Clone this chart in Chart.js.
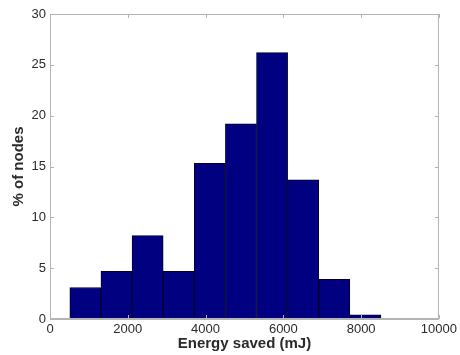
<!DOCTYPE html>
<html>
<head>
<meta charset="utf-8">
<script src="https://cdn.jsdelivr.net/npm/chart.js@4/dist/chart.umd.min.js"></script>
<style>
  html, body { margin: 0; padding: 0; background: #fff; }
  #wrap { width: 460px; height: 355px; position: relative; }
</style>
</head>
<body>
<div id="wrap"><canvas id="hist"></canvas></div>
<script>
// histogram bins (centre of each 800 mJ bin) and share of nodes in each
const binCenters = [910, 1710, 2510, 3310, 4110, 4910, 5710, 6510, 7310, 8110];
const nodePercent = [3.1, 4.7, 8.2, 4.7, 15.3, 19.2, 26.2, 13.7, 3.9, 0.4];
const xTicks = [0, 2000, 4000, 6000, 8000, 10000];
const yTicks = [0, 5, 10, 15, 20, 25, 30];

const axisGrey = '#b4b4b4';
const textColor = '#2a2a2a';
const family = 'Liberation Sans, Arial, sans-serif';

// matlab-style box: frame on all four sides, ticks pointing inwards
const boxPlugin = {
    id: 'boxTicks',
    afterDatasetsDraw(chart) {
        const { ctx, chartArea, scales } = chart;
        const { top, bottom, left, right } = chartArea;
        const len = 4;
        ctx.save();
        ctx.strokeStyle = axisGrey;
        ctx.lineWidth = 1;
        ctx.beginPath();
        ctx.rect(left + 0.5, top + 0.5, right - left - 1, bottom - top - 1);
        xTicks.forEach(v => {
            const x = Math.round(scales.x.getPixelForValue(v)) + 0.5;
            ctx.moveTo(x, bottom); ctx.lineTo(x, bottom - len);
            ctx.moveTo(x, top); ctx.lineTo(x, top + len);
        });
        yTicks.forEach(v => {
            const y = Math.round(scales.y.getPixelForValue(v)) + 0.5;
            ctx.moveTo(left, y); ctx.lineTo(left + len, y);
            ctx.moveTo(right, y); ctx.lineTo(right - len, y);
        });
        ctx.stroke();
        ctx.restore();
    }
};

new Chart(document.getElementById('hist').getContext('2d'), {
    type: 'bar',
    data: {
        datasets: [{
            data: binCenters.map((c, i) => ({ x: c, y: nodePercent[i] })),
            backgroundColor: '#000080',
            borderColor: '#00002a',
            borderWidth: 1,
            borderSkipped: 'start',
            barPercentage: 1,
            categoryPercentage: 1
        }]
    },
    options: {
        responsive: true,
        maintainAspectRatio: false,
        animation: false,
        layout: { padding: { top: 14, right: 21, left: 0, bottom: 0 } },
        plugins: {
            legend: { display: false },
            tooltip: { enabled: false }
        },
        scales: {
            x: {
                type: 'linear',
                min: 0,
                max: 10000,
                offset: false,
                grid: { display: false, drawTicks: false },
                border: { display: true, color: axisGrey },
                ticks: {
                    stepSize: 2000,
                    maxRotation: 0,
                    padding: 3,
                    color: textColor,
                    font: { family, size: 13 },
                    callback: v => String(v)
                },
                title: {
                    display: true,
                    text: 'Energy saved (mJ)',
                    color: textColor,
                    padding: { top: 0, bottom: 2 },
                    font: { family, size: 15, weight: 'bold' }
                },
                afterFit(scale) { scale.height = 36; }
            },
            y: {
                min: 0,
                max: 30,
                grid: { display: false, drawTicks: false },
                border: { display: true, color: axisGrey },
                ticks: {
                    stepSize: 5,
                    padding: 4,
                    color: textColor,
                    font: { family, size: 13 },
                    callback: v => String(v)
                },
                title: {
                    display: true,
                    text: '% of nodes',
                    color: textColor,
                    padding: { top: 10, bottom: 0 },
                    font: { family, size: 15, weight: 'bold' }
                },
                afterFit(scale) { scale.width = 50; }
            }
        }
    },
    plugins: [boxPlugin]
});
</script>
</body>
</html>
